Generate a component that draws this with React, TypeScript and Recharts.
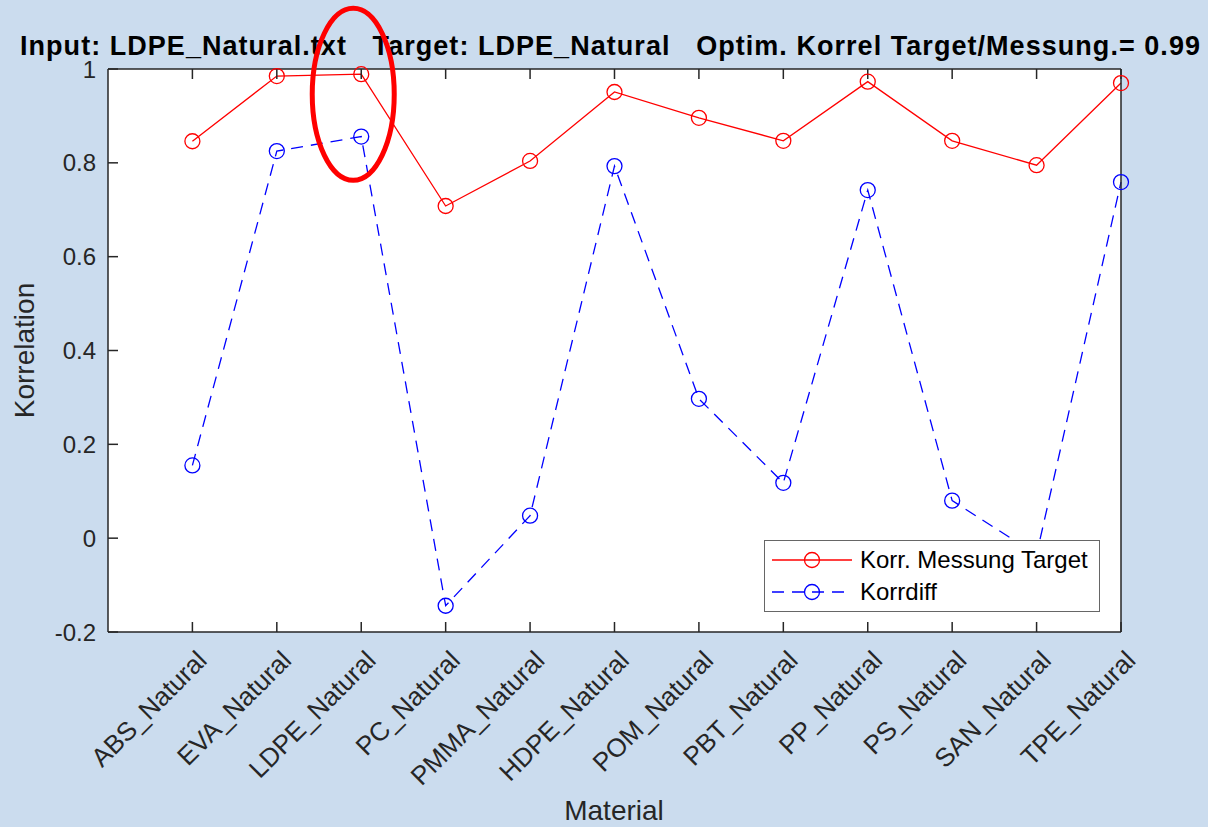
import React from 'react'
import { LineChart, Line, XAxis, YAxis, CartesianGrid, Legend, ReferenceDot } from 'recharts'

const materials = [
  'ABS_Natural', 'EVA_Natural', 'LDPE_Natural', 'PC_Natural', 'PMMA_Natural', 'HDPE_Natural',
  'POM_Natural', 'PBT_Natural', 'PP_Natural', 'PS_Natural', 'SAN_Natural', 'TPE_Natural',
]
const korrMessungTarget = [0.846, 0.985, 0.989, 0.708, 0.804, 0.951, 0.896, 0.847, 0.973, 0.847, 0.795, 0.970]
const korrdiff = [0.155, 0.825, 0.856, -0.144, 0.048, 0.793, 0.297, 0.118, 0.742, 0.080, -0.035, 0.759]
const yTicks = [-0.2, 0, 0.2, 0.4, 0.6, 0.8, 1]

const data = materials.map((name, i) => ({
  name,
  messung: korrMessungTarget[i],
  diff: korrdiff[i],
}))

const FONT = '"Liberation Sans", Arial, Helvetica, sans-serif'
const AXIS = '#262626'
const BG = '#cbdcee'
const RED = '#ff0000'
const BLUE = '#0000ff'

function MaterialTick({ x, y, payload }: any) {
  return (
    <text
      transform={`translate(${x + 16},${y + 30}) rotate(-45)`}
      textAnchor="end"
      fontSize={26}
      fontFamily={FONT}
      fill={AXIS}
    >
      {payload.value}
    </text>
  )
}

// red marker ellipse around the LDPE point
function Ellipse({ cx, cy }: any) {
  if (cx == null || cy == null) return null
  return <ellipse cx={cx - 8} cy={cy} rx={41} ry={86} fill="none" stroke={RED} strokeWidth={5} />
}

function LegendBox({ payload }: any) {
  return (
    <div style={{
      width: 336, height: 72, background: '#fff', border: '1.5px solid #666',
      boxSizing: 'border-box', fontFamily: FONT, fontSize: 24, color: '#000',
    }}>
      {(payload || []).map((item: any, i: number) => (
        <div key={i} style={{ display: 'flex', alignItems: 'center', height: 32, marginTop: i === 0 ? 3 : 0 }}>
          <svg width={95} height={32} style={{ flex: 'none' }}>
            <line x1={7} x2={87} y1={16} y2={16} stroke={item.color} strokeWidth={1.3}
              strokeDasharray={item.payload?.strokeDasharray} />
            <circle cx={47} cy={16} r={7.5} fill="none" stroke={item.color} strokeWidth={1.3} />
          </svg>
          <span style={{ lineHeight: '32px' }}>{item.value}</span>
        </div>
      ))}
    </div>
  )
}

export default function App() {
  const hidden = () => ''
  return (
    <div style={{ position: 'absolute', left: 0, top: 0, width: 1208, height: 827, background: BG, overflow: 'hidden' }}>
      <svg width={1208} height={827} style={{ position: 'absolute', left: 0, top: 0 }}>
        <text x={20} y={55} fontSize={27} fontWeight="bold" fontFamily={FONT}
          fill="#000" textLength={1180} lengthAdjust="spacing" style={{ whiteSpace: 'pre' }}>
          {'Input: LDPE_Natural.txt   Target: LDPE_Natural   Optim. Korrel Target/Messung.= 0.99'}
        </text>
        <text transform="translate(34,350.5) rotate(-90)" textAnchor="middle" fontSize={28}
          fontFamily={FONT} fill={AXIS}>Korrelation</text>
        <text x={614} y={820} textAnchor="middle" fontSize={28} fontFamily={FONT} fill={AXIS}>Material</text>
      </svg>
      <div style={{ position: 'absolute', left: 0, top: 0 }}>
        <LineChart width={1208} height={827} data={data}
          margin={{ top: 68, right: 86, bottom: 0, left: 47 }}>
          <CartesianGrid xAxisId="bottom" yAxisId="left" horizontal={false} vertical={false} fill="#fff" />
          <XAxis xAxisId="bottom" dataKey="name" height={195} interval={0}
            padding={{ left: 84.4, right: 0 }}
            axisLine={{ stroke: AXIS, strokeWidth: 1.5 }}
            tickLine={{ stroke: AXIS, strokeWidth: 1.5 }}
            tickSize={-10} tickMargin={10} tick={<MaterialTick />} />
          <XAxis xAxisId="top" orientation="top" dataKey="name" height={1} interval={0}
            padding={{ left: 84.4, right: 0 }}
            axisLine={{ stroke: AXIS, strokeWidth: 1.5 }}
            tickLine={{ stroke: AXIS, strokeWidth: 1.5 }}
            tickSize={-10} tickFormatter={hidden} />
          <YAxis yAxisId="left" type="number" domain={[-0.2, 1]} ticks={yTicks} width={61}
            interval={0}
            axisLine={{ stroke: AXIS, strokeWidth: 1.5 }}
            tickLine={{ stroke: AXIS, strokeWidth: 1.5 }}
            tickSize={-10} tickMargin={22}
            tick={{ fontSize: 24, fontFamily: FONT, fill: AXIS }} />
          <YAxis yAxisId="right" orientation="right" type="number" domain={[-0.2, 1]} ticks={yTicks}
            width={1} interval={0}
            axisLine={{ stroke: AXIS, strokeWidth: 1.5 }}
            tickLine={{ stroke: AXIS, strokeWidth: 1.5 }}
            tickSize={-10} tickFormatter={hidden} />
          <Line xAxisId="bottom" yAxisId="left" dataKey="messung" name="Korr. Messung Target"
            stroke={RED} strokeWidth={1.3} isAnimationActive={false} activeDot={false}
            dot={{ r: 7.5, fill: 'none', stroke: RED, strokeWidth: 1.3 }} />
          <Line xAxisId="bottom" yAxisId="left" dataKey="diff" name="Korrdiff"
            stroke={BLUE} strokeWidth={1.3} strokeDasharray="12 8" isAnimationActive={false} activeDot={false}
            dot={{ r: 7.5, fill: 'none', stroke: BLUE, strokeWidth: 1.3, strokeDasharray: '0' }} />
          <ReferenceDot xAxisId="bottom" yAxisId="left" x="LDPE_Natural" y={0.946}
            ifOverflow="visible" shape={<Ellipse />} />
          <Legend layout="vertical" align="center" verticalAlign="middle" content={<LegendBox />}
            wrapperStyle={{ left: 764, top: 540, width: 336, height: 72 }} />
        </LineChart>
      </div>
    </div>
  )
}
